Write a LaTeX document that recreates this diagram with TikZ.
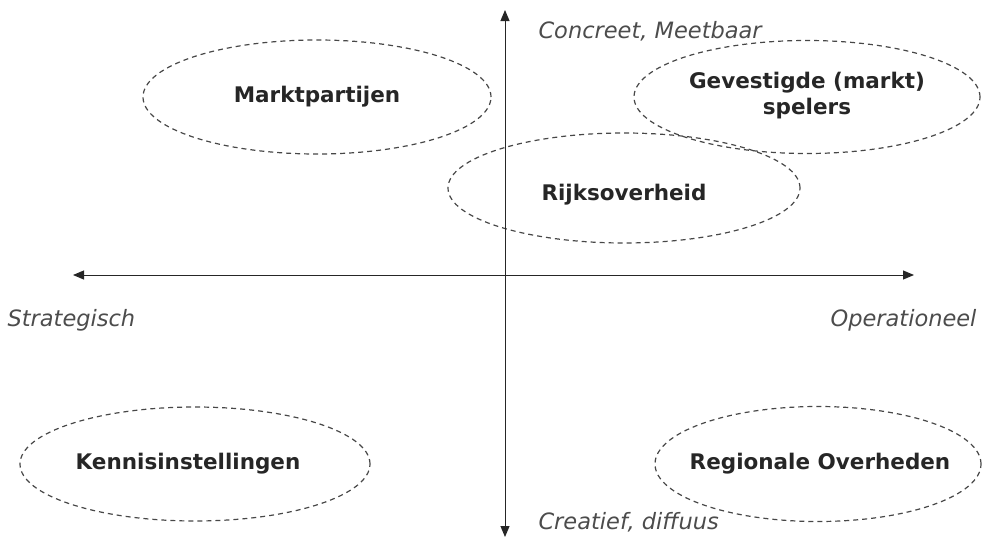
\documentclass[tikz,border=0pt]{standalone}
\usepackage{fontspec}
\setmainfont{DejaVu Sans}
\usetikzlibrary{shapes.geometric,arrows.meta}
\begin{document}
\begin{tikzpicture}[x=1pt,y=-1pt,
  grp/.style={ellipse,draw=black!72,dash pattern=on 5pt off 4pt,line width=1.2pt,inner sep=0pt},
  grplabel/.style={font=\bfseries\fontsize{21.5}{26}\selectfont,text=black!85,align=center},
  axlabel/.style={font=\itshape\fontsize{22.5}{26}\selectfont,text=black!70},
  axis/.style={line width=1pt,black!85,-{Triangle[length=11pt,width=9pt]}}]
\useasboundingbox (0,0) rectangle (993,538);
\node[grp,minimum width=348pt,minimum height=114pt] (mp) at (317,97) {};
\node[grp,minimum width=346pt,minimum height=113pt] (gv) at (807,97) {};
\node[grp,minimum width=352pt,minimum height=110pt] (rk) at (624,188) {};
\node[grp,minimum width=350pt,minimum height=114pt] (ki) at (195,464) {};
\node[grp,minimum width=326pt,minimum height=115pt] (ro) at (818,464) {};
\node[grplabel] (mpt) at (317,97) {Marktpartijen};
\node[grplabel] (gvt) at (807,96) {Gevestigde (markt)\\spelers};
\node[grplabel] (rkt) at (624,195) {Rijksoverheid};
\node[grplabel] (kit) at (188,464) {Kennisinstellingen};
\node[grplabel] (rot) at (820,464) {Regionale Overheden};
\coordinate (top) at (505,10);
\coordinate (bot) at (505,537);
\coordinate (left) at (73,275);
\coordinate (right) at (914,275);
\coordinate (c) at (505,275);
\draw[axis] (c) -- (top);
\draw[axis] (c) -- (bot);
\draw[axis] (c) -- (left);
\draw[axis] (c) -- (right);
\node[axlabel,anchor=west] (con) at (535,31) {Concreet, Meetbaar};
\node[axlabel,anchor=west] (cre) at (535,522) {Creatief, diffuus};
\node[axlabel,anchor=west] (str) at (4,320) {Strategisch};
\node[axlabel,anchor=east] (op) at (980,320) {Operationeel};
\end{tikzpicture}
\end{document}
